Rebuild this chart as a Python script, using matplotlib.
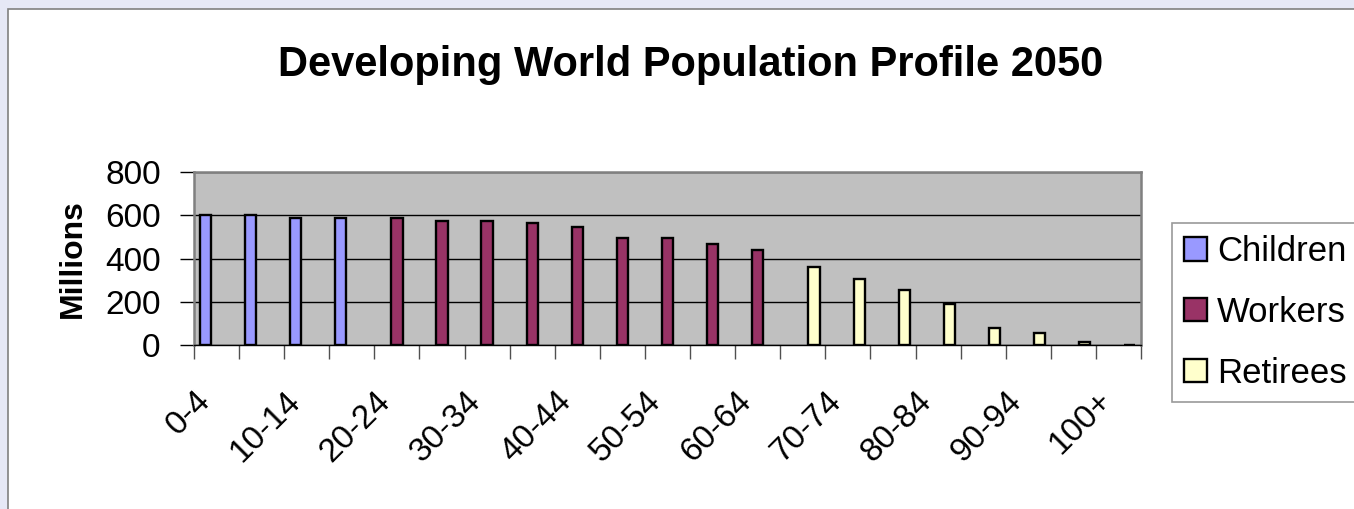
import matplotlib.pyplot as plt
import matplotlib.patches as mpatches
from matplotlib.transforms import ScaledTranslation
import numpy as np

plt.rcParams['font.family'] = ['Liberation Sans', 'DejaVu Sans']

# age groups (21 categories), only every other one is labelled
age_groups = ["0-4", "5-9", "10-14", "15-19", "20-24", "25-29", "30-34",
              "35-39", "40-44", "45-49", "50-54", "55-59", "60-64", "65-69",
              "70-74", "75-79", "80-84", "85-89", "90-94", "95-99", "100+"]

# population in millions
children = [600, 600, 585, 585]                                  # 0-4 .. 15-19
workers = [585, 575, 575, 562, 547, 497, 497, 468, 441]          # 20-24 .. 60-64
retirees = [360, 305, 254, 188, 80, 56, 15, 0]                   # 65-69 .. 100+

series_names = ["Children", "Workers", "Retirees"]
series_colors = ["#9999FF", "#993366", "#FFFFCC"]

W, H = 1354, 509
fig = plt.figure(figsize=(W / 100, H / 100), dpi=100)
fig.patch.set_facecolor("#E6E8F6")

# white chart area with a grey frame
chart_bg = mpatches.Rectangle((8 / W, -0.1), 1.2, 1.1 - 9 / H,
                              transform=fig.transFigure, facecolor="white",
                              edgecolor="#808080", linewidth=1.2, zorder=-5)
fig.add_artist(chart_bg)

ax = fig.add_axes([194 / W, 1 - 345 / H, (1141 - 194) / W, (345 - 172) / H])
ax.set_zorder(2)
ax.set_facecolor("#C0C0C0")

bar_w = 0.25
groups = [children, workers, retirees]
start = 0
for i, (vals, name, col) in enumerate(zip(groups, series_names, series_colors)):
    x = np.arange(start, start + len(vals)) + (i - 1) * bar_w
    ax.bar(x, vals, width=bar_w, color=col, edgecolor="black",
           linewidth=1.7, label=name, zorder=3)
    start += len(vals)

ax.set_xlim(-0.5, len(age_groups) - 0.5)
ax.set_ylim(0, 800)
ax.set_yticks(np.arange(0, 801, 200))
ax.yaxis.grid(True, color="black", linewidth=1.0, zorder=1)
ax.set_axisbelow(True)

for side in ["top", "right", "left"]:
    ax.spines[side].set_color("#808080")
    ax.spines[side].set_linewidth(1.8)
ax.spines["bottom"].set_color("black")
ax.spines["bottom"].set_linewidth(1.0)
ax.spines["bottom"].set_zorder(4)

ax.tick_params(axis="y", direction="out", length=10, width=1, pad=14,
               labelsize=24, colors="black")

ax.set_xticks(np.arange(0, len(age_groups), 2))
ax.set_xticklabels(age_groups[::2], rotation=45, ha="right", va="top",
                   rotation_mode="anchor", fontsize=24)
ax.set_xticks(np.arange(-0.5, len(age_groups), 1), minor=True)
ax.tick_params(axis="x", which="major", length=0, pad=29)
ax.tick_params(axis="x", which="minor", direction="out", length=10, width=1,
               color="#505050")
shift = ScaledTranslation(-0.22, 0, fig.dpi_scale_trans)
for lbl in ax.get_xticklabels():
    lbl.set_transform(lbl.get_transform() + shift)

ax.set_ylabel("Millions", fontsize=23, fontweight="bold")
ax.yaxis.set_label_coords(-0.112, 0.5)

fig.text(0.51, 1 - 76 / H, "Developing World Population Profile 2050",
         ha="center", va="baseline", fontsize=30, fontweight="bold")

leg = fig.legend(loc="upper left", bbox_to_anchor=(1172 / W, 1 - 223 / H),
                 fontsize=25, frameon=True, fancybox=False,
                 handlelength=0.65, handleheight=0.65, handletextpad=0.3,
                 labelspacing=0.8, borderpad=0.35, borderaxespad=0)
leg.get_frame().set_edgecolor("#808080")
leg.get_frame().set_linewidth(1.2)

fig.savefig("out.png", dpi=100, facecolor=fig.get_facecolor())
